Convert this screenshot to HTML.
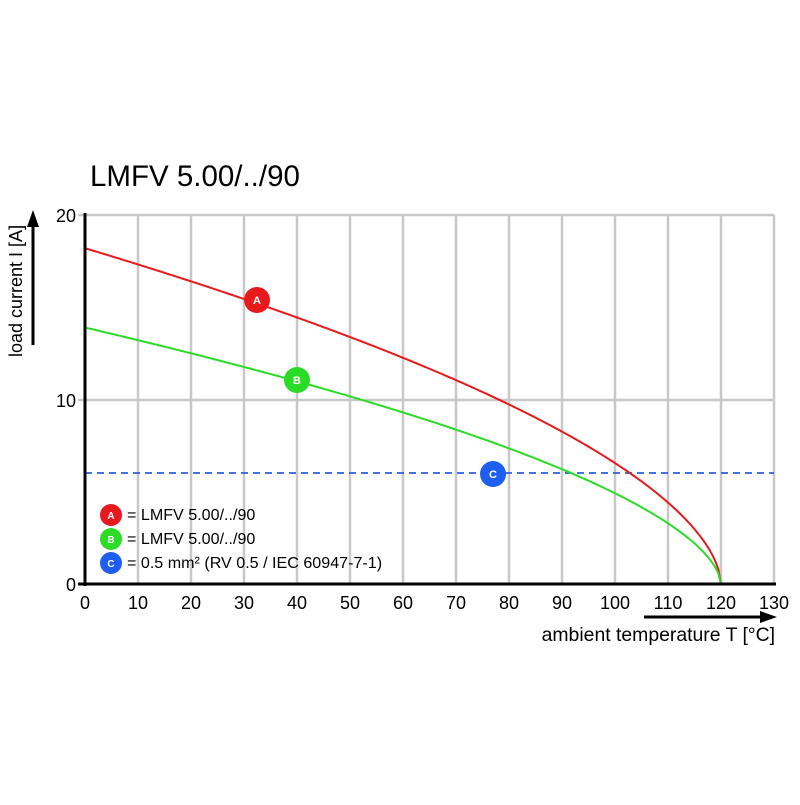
<!DOCTYPE html>
<html><head><meta charset="utf-8"><style>html,body{margin:0;padding:0;background:#fff}</style></head>
<body>
<svg width="800" height="800" viewBox="0 0 800 800" xmlns="http://www.w3.org/2000/svg" font-family="Liberation Sans, Arial, sans-serif">
<rect width="800" height="800" fill="#fff"/>
<text x="90" y="186" font-size="29.5" fill="#000">LMFV 5.00/../90</text>
<g stroke="#c8c8c8" stroke-width="2.5">
<line x1="138" y1="215" x2="138" y2="584"/><line x1="191" y1="215" x2="191" y2="584"/>
<line x1="244" y1="215" x2="244" y2="584"/><line x1="297" y1="215" x2="297" y2="584"/>
<line x1="350" y1="215" x2="350" y2="584"/><line x1="403" y1="215" x2="403" y2="584"/>
<line x1="456" y1="215" x2="456" y2="584"/><line x1="509" y1="215" x2="509" y2="584"/>
<line x1="562" y1="215" x2="562" y2="584"/><line x1="615" y1="215" x2="615" y2="584"/>
<line x1="668" y1="215" x2="668" y2="584"/><line x1="721" y1="215" x2="721" y2="584"/>
<line x1="774" y1="215" x2="774" y2="584"/>
<line x1="78" y1="215" x2="774" y2="215"/><line x1="78" y1="400" x2="774" y2="400"/>
</g>
<line x1="85" y1="473" x2="774" y2="473" stroke="#2a5fe0" stroke-width="1.8" stroke-dasharray="7,5"/>
<path id="ra" fill="none" stroke="#e8191d" stroke-width="2"/>
<path id="ga" fill="none" stroke="#2adc26" stroke-width="2"/>
<line x1="85" y1="213" x2="85" y2="586" stroke="#000" stroke-width="3"/>
<line x1="78" y1="584" x2="776" y2="584" stroke="#000" stroke-width="3"/>
<g font-size="18" fill="#000" text-anchor="end">
<text x="76" y="222">20</text><text x="76" y="407">10</text><text x="76" y="591">0</text>
</g>
<g font-size="18" fill="#000" text-anchor="middle">
<text x="85" y="609">0</text><text x="138" y="609">10</text><text x="191" y="609">20</text>
<text x="244" y="609">30</text><text x="297" y="609">40</text><text x="350" y="609">50</text>
<text x="403" y="609">60</text><text x="456" y="609">70</text><text x="509" y="609">80</text>
<text x="562" y="609">90</text><text x="615" y="609">100</text><text x="668" y="609">110</text>
<text x="721" y="609">120</text><text x="774" y="609">130</text>
</g>
<line x1="644" y1="617" x2="762" y2="617" stroke="#000" stroke-width="3"/>
<polygon points="777,617 760,611 760,623" fill="#000"/>
<text x="775" y="641" font-size="19.4" text-anchor="end">ambient temperature T [°C]</text>
<line x1="33" y1="345" x2="33" y2="225" stroke="#000" stroke-width="3"/>
<polygon points="33,210 27,227 39,227" fill="#000"/>
<text transform="translate(22,357) rotate(-90)" font-size="18">load current I [A]</text>
<g font-size="11" font-weight="bold" fill="#fff" text-anchor="middle">
<circle cx="257" cy="300" r="13" fill="#e8191d"/><text x="257" y="304">A</text>
<circle cx="297" cy="380" r="13" fill="#2adc26"/><text x="297" y="384">B</text>
<circle cx="493" cy="474" r="13" fill="#1e5ef0"/><text x="493" y="478">C</text>
<circle cx="111" cy="515" r="11" fill="#e8191d"/><text x="111" y="519" font-size="10">A</text>
<circle cx="111" cy="539" r="11" fill="#2adc26"/><text x="111" y="543" font-size="10">B</text>
<circle cx="111" cy="563" r="11" fill="#1e5ef0"/><text x="111" y="567" font-size="10">C</text>
</g>
<g font-size="16.1" fill="#000">
<text x="127" y="520">= LMFV 5.00/../90</text>
<text x="127" y="544">= LMFV 5.00/../90</text>
<text x="127" y="568">= 0.5 mm² (RV 0.5 / IEC 60947-7-1)</text>
</g>
<script>
function mk(id,I0,p){var d='';for(var i=0;i<=240;i++){var T=i*0.5;var I=I0*Math.pow(Math.max(0,1-T/120),p);var x=85+T*5.3,y=584-I*18.45;d+=(i?'L':'M')+x.toFixed(2)+','+y.toFixed(2);}document.getElementById(id).setAttribute('d',d);}
mk('ra',18.2,0.57);mk('ga',13.9,0.58);
</script>
</svg>
</body></html>
